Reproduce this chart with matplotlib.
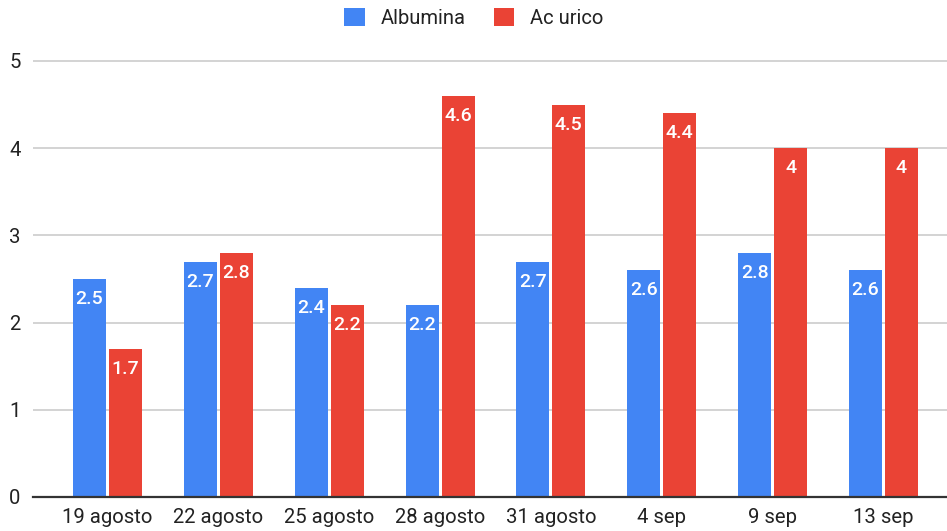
import matplotlib
matplotlib.use("Agg")
import matplotlib.pyplot as plt
from matplotlib.patches import Patch
import numpy as np

plt.rcParams['font.family'] = ['Roboto', 'DejaVu Sans']

fechas = ["19 agosto", "22 agosto", "25 agosto", "28 agosto", "31 agosto",
          "4 sep", "9 sep", "13 sep"]
albumina = [2.5, 2.7, 2.4, 2.2, 2.7, 2.6, 2.8, 2.6]
ac_urico = [1.7, 2.8, 2.2, 4.6, 4.5, 4.4, 4, 4]
y_ticks = [0, 1, 2, 3, 4, 5]

azul = "#4285F4"
rojo = "#EA4335"

W, H = 947, 531
fig = plt.figure(figsize=(W / 100, H / 100), dpi=100)
ax_left, ax_right = 33, 947
ax_bottom, ax_top = 497, 55
ax = fig.add_axes([ax_left / W, (H - ax_bottom) / H,
                   (ax_right - ax_left) / W, (ax_bottom - ax_top) / H])

x = np.arange(len(fechas))
bw = 0.298
off = 0.162
b1 = ax.bar(x - off, albumina, bw, color=azul, zorder=3)
b2 = ax.bar(x + off, ac_urico, bw, color=rojo, zorder=3)

for bars, vals in ((b1, albumina), (b2, ac_urico)):
    for rect, v in zip(bars, vals):
        ax.annotate(f"{v:g}", (rect.get_x() + rect.get_width() / 2, v),
                    xytext=(0, -8), textcoords="offset points",
                    ha="center", va="top", color="white",
                    fontsize=14, fontweight="medium", zorder=4)

ax.set_xlim(-0.672, 7.573)
ax.set_ylim(0, 5 * (ax_bottom - ax_top) / (497 - 61))
ax.set_yticks(y_ticks)
ax.set_yticklabels([str(t) for t in y_ticks])
ax.set_xticks(x)
ax.set_xticklabels(fechas)
ax.grid(axis="y", color="#cccccc", linewidth=1.2, zorder=0)
ax.set_axisbelow(True)
for s in ("top", "right", "left"):
    ax.spines[s].set_visible(False)
ax.spines["bottom"].set_color("#333333")
ax.spines["bottom"].set_linewidth(1.6)
ax.spines["bottom"].set_zorder(5)
ax.tick_params(axis="both", length=0, labelsize=14.6, colors="#222222")
ax.tick_params(axis="y", pad=9)
ax.tick_params(axis="x", pad=8)

handles = [Patch(facecolor=azul, label="Albumina"),
           Patch(facecolor=rojo, label="Ac urico")]
fig.legend(handles=handles, loc="center", bbox_to_anchor=(474 / W, 1 - 18 / H),
           ncol=2, frameon=False, fontsize=14.5, handlelength=1.0,
           handleheight=1.0, handletextpad=0.8, columnspacing=1.4,
           labelcolor="#222222")

fig.savefig("out.png", dpi=100, facecolor="white")
